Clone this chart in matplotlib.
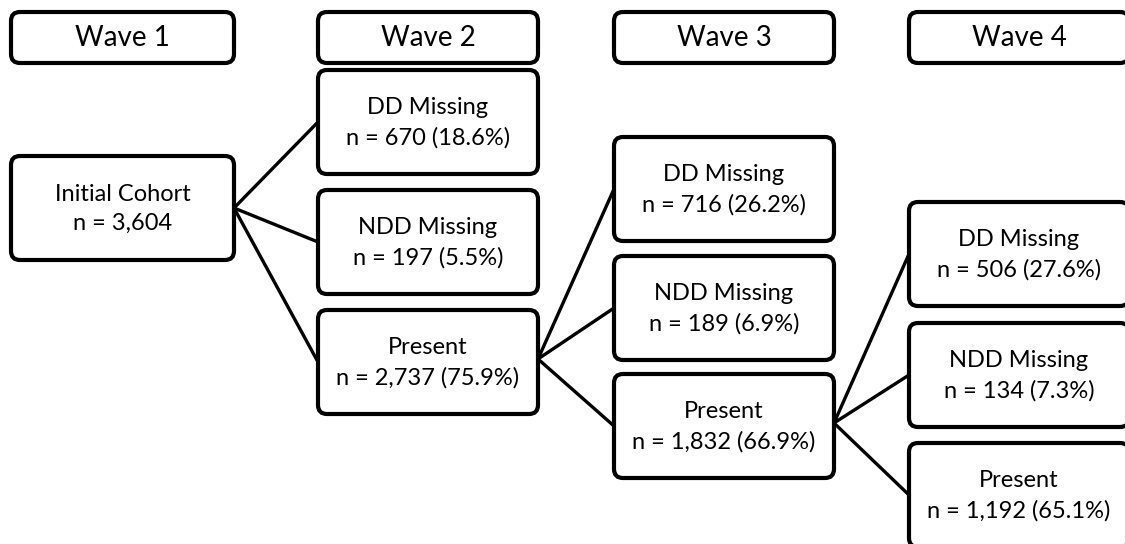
import matplotlib.pyplot as plt
from matplotlib.patches import FancyBboxPatch

plt.rcParams['font.family'] = ['Lato', 'DejaVu Sans']

waves = ["Wave 1", "Wave 2", "Wave 3", "Wave 4"]
initial_label = "Initial Cohort"
initial_n = "3,604"
status = ["DD Missing", "NDD Missing", "Present"]
counts = {
    2: ["670", "197", "2,737"],
    3: ["716", "189", "1,832"],
    4: ["506", "134", "1,192"],
}
pcts = {
    2: [18.6, 5.5, 75.9],
    3: [26.2, 6.9, 66.9],
    4: [27.6, 7.3, 65.1],
}

W, H = 1125, 544
fig = plt.figure(figsize=(W / 100, H / 100), dpi=100)
ax = fig.add_axes([0, 0, 1, 1])
ax.set_xlim(0, W)
ax.set_ylim(H, 0)
ax.axis("off")

# column x-extents and box tops (pixels)
col_x = [(11, 234), (318, 538), (614, 834), (909, 1129)]
header_y = (12, 63)
tops = {2: [70, 190, 310], 3: [137, 256, 374], 4: [202, 323, 443]}
box_h = 104


def box(x0, x1, y0, y1, text, fs, lw=3.0):
    p = FancyBboxPatch((x0, y0), x1 - x0, y1 - y0,
                       boxstyle="round,pad=0,rounding_size=9",
                       fc="white", ec="black", lw=lw, zorder=3)
    ax.add_patch(p)
    ax.text((x0 + x1) / 2, (y0 + y1) / 2 + 1, text, ha="center", va="center",
            fontsize=fs, zorder=4, linespacing=1.5)


def line(p, q):
    ax.plot([p[0], q[0]], [p[1], q[1]], color="black", lw=2.4,
            solid_capstyle="butt", zorder=2)


for i, w in enumerate(waves):
    box(col_x[i][0], col_x[i][1], header_y[0], header_y[1], w, 20)

init_y = (156, 260)
box(col_x[0][0], col_x[0][1], init_y[0], init_y[1],
    "%s\nn = %s" % (initial_label, initial_n), 17)

src = (col_x[0][1], (init_y[0] + init_y[1]) / 2)
for wv in (2, 3, 4):
    x0, x1 = col_x[wv - 1]
    for k, s in enumerate(status):
        y0 = tops[wv][k]
        line(src, (x0, y0 + box_h / 2))
        box(x0, x1, y0, y0 + box_h,
            "%s\nn = %s (%.1f%%)" % (s, counts[wv][k], pcts[wv][k]), 17)
    src = (x1, tops[wv][2] + box_h / 2 - 3)

fig.savefig("out.png", dpi=100)
